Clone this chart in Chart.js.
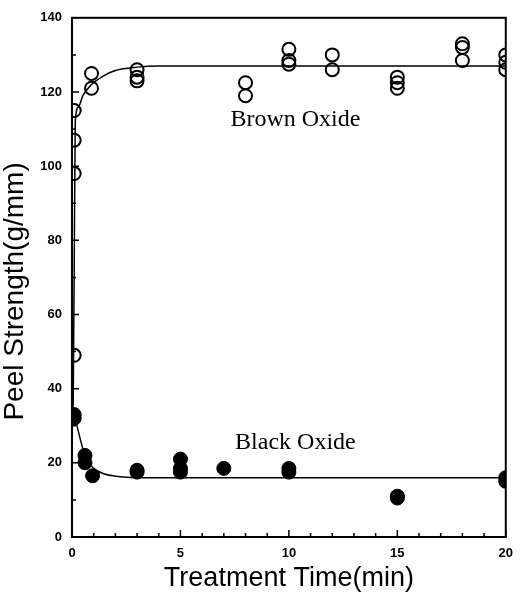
<!DOCTYPE html>
<html>
<head>
<meta charset="utf-8">
<script src="https://cdn.jsdelivr.net/npm/chart.js@4/dist/chart.umd.min.js"></script>
<style>
  html, body { margin: 0; padding: 0; background: #fff; }
  #wrap { width: 522px; height: 596px; }
</style>
</head>
<body>
<div id="wrap"><canvas id="peelChart" width="522" height="596"></canvas></div>
<script>
// Brown oxide (open circles)
const brownTime = [0.1, 0.1, 0.1, 0.1, 0.9, 0.9, 3, 3, 3, 8, 8, 10, 10, 10, 12, 12, 15, 15, 15, 18, 18, 18, 20, 20, 20];
const brownPeel = [49, 98, 107, 115, 121, 125, 123, 124, 126, 119, 122.5, 127.5, 128.5, 131.5, 126, 130, 121, 122.5, 124, 128.5, 132, 133, 126, 128, 130];

// Black oxide (filled circles)
const blackTime = [0.1, 0.1, 0.6, 0.6, 0.95, 3, 3, 5, 5, 5, 7, 10, 10, 15, 15, 20, 20];
const blackPeel = [32, 33, 20, 22, 16.5, 17.5, 18, 17.5, 18.5, 21, 18.5, 17.5, 18.5, 10.5, 11, 15, 16];

// fitted curves
const brownFitTime = [0.05, 0.1, 0.15, 0.3, 0.5, 0.9, 1.5, 2, 3, 4, 6, 20];
const brownFitPeel = [33, 70, 112, 116, 119, 122, 124.5, 125.8, 126.7, 127, 127, 127];
const blackFitTime = [0.1, 0.6, 1, 1.5, 2, 3, 5, 20];
const blackFitPeel = [33, 22, 18.5, 17, 16.4, 16, 16, 16];

const xTicks = [0, 5, 10, 15, 20];
const yTicks = [0, 20, 40, 60, 80, 100, 120, 140];

const labels = [
    { text: 'Brown Oxide', x: 10.3, y: 112.4 },
    { text: 'Black Oxide', x: 10.3, y: 25.5 }
];
const yTitle = 'Peel Strength(g/mm)';

function toPoints(xs, ys) {
    return xs.map((x, i) => ({ x: x, y: ys[i] }));
}

// cadre + graduations vers l'intérieur + étiquettes + titre vertical
const framePlugin = {
    id: 'frame',
    afterDatasetsDraw(chart) {
        const { ctx, chartArea: a, scales } = chart;
        const xs = scales.x, ys = scales.y;
        ctx.save();
        ctx.strokeStyle = '#000';
        ctx.lineWidth = 2;
        ctx.strokeRect(a.left, a.top, a.right - a.left, a.bottom - a.top);

        ctx.lineWidth = 1.5;
        ctx.beginPath();
        for (let v = 0; v <= 20; v++) {
            const px = xs.getPixelForValue(v);
            const len = v % 5 === 0 ? 7 : 4;
            ctx.moveTo(px, a.bottom);
            ctx.lineTo(px, a.bottom - len);
        }
        for (let v = 0; v <= 140; v += 10) {
            const py = ys.getPixelForValue(v);
            const len = v % 20 === 0 ? 7 : 4;
            ctx.moveTo(a.left, py);
            ctx.lineTo(a.left + len, py);
        }
        ctx.stroke();

        ctx.fillStyle = '#000';
        ctx.font = '24px "Liberation Serif", "Times New Roman", serif';
        ctx.textAlign = 'center';
        ctx.textBaseline = 'middle';
        labels.forEach(l => {
            ctx.fillText(l.text, xs.getPixelForValue(l.x), ys.getPixelForValue(l.y));
        });

        // titre de l'axe Y
        ctx.translate(15, (a.top + a.bottom) / 2 + 14);
        ctx.rotate(-Math.PI / 2);
        ctx.font = '28px "Liberation Sans", Arial, sans-serif';
        ctx.fillText(yTitle, 0, 0);
        ctx.restore();
    }
};

const tickFont = { family: '"Liberation Sans", Arial, sans-serif', size: 13, weight: 'bold' };

new Chart(document.getElementById('peelChart'), {
    type: 'scatter',
    data: {
        datasets: [
            {
                label: 'Brown Oxide',
                data: toPoints(brownTime, brownPeel),
                pointRadius: 6.5,
                pointBorderWidth: 2,
                pointBorderColor: '#000',
                pointBackgroundColor: 'rgba(0, 0, 0, 0)'
            },
            {
                label: 'Black Oxide',
                data: toPoints(blackTime, blackPeel),
                pointRadius: 7,
                pointBorderWidth: 1,
                pointBorderColor: '#000',
                pointBackgroundColor: '#000'
            },
            {
                label: 'Brown fit',
                data: toPoints(brownFitTime, brownFitPeel),
                showLine: true,
                borderColor: '#000',
                borderWidth: 1.5,
                pointRadius: 0,
                cubicInterpolationMode: 'monotone'
            },
            {
                label: 'Black fit',
                data: toPoints(blackFitTime, blackFitPeel),
                showLine: true,
                borderColor: '#000',
                borderWidth: 1.5,
                pointRadius: 0,
                cubicInterpolationMode: 'monotone'
            }
        ]
    },
    options: {
        responsive: false,
        animation: false,
        layout: { padding: { top: 16, right: 15, left: 0, bottom: 0 } },
        plugins: {
            legend: { display: false },
            tooltip: { enabled: false }
        },
        scales: {
            x: {
                type: 'linear',
                min: 0,
                max: 20,
                afterBuildTicks: s => { s.ticks = xTicks.map(v => ({ value: v })); },
                afterFit: s => { s.height = 59; },
                ticks: { color: '#000', font: tickFont, padding: 9 },
                grid: { display: false, drawTicks: false },
                border: { display: false },
                title: {
                    display: true,
                    text: 'Treatment Time(min)',
                    color: '#000',
                    font: { family: '"Liberation Sans", Arial, sans-serif', size: 27 },
                    padding: { top: 0, bottom: 1 }
                }
            },
            y: {
                type: 'linear',
                min: 0,
                max: 140,
                afterBuildTicks: s => { s.ticks = yTicks.map(v => ({ value: v })); },
                afterFit: s => { s.width = 72; },
                ticks: { color: '#000', font: tickFont, padding: 10 },
                grid: { display: false, drawTicks: false },
                border: { display: false }
            }
        }
    },
    plugins: [framePlugin]
});
</script>
</body>
</html>
